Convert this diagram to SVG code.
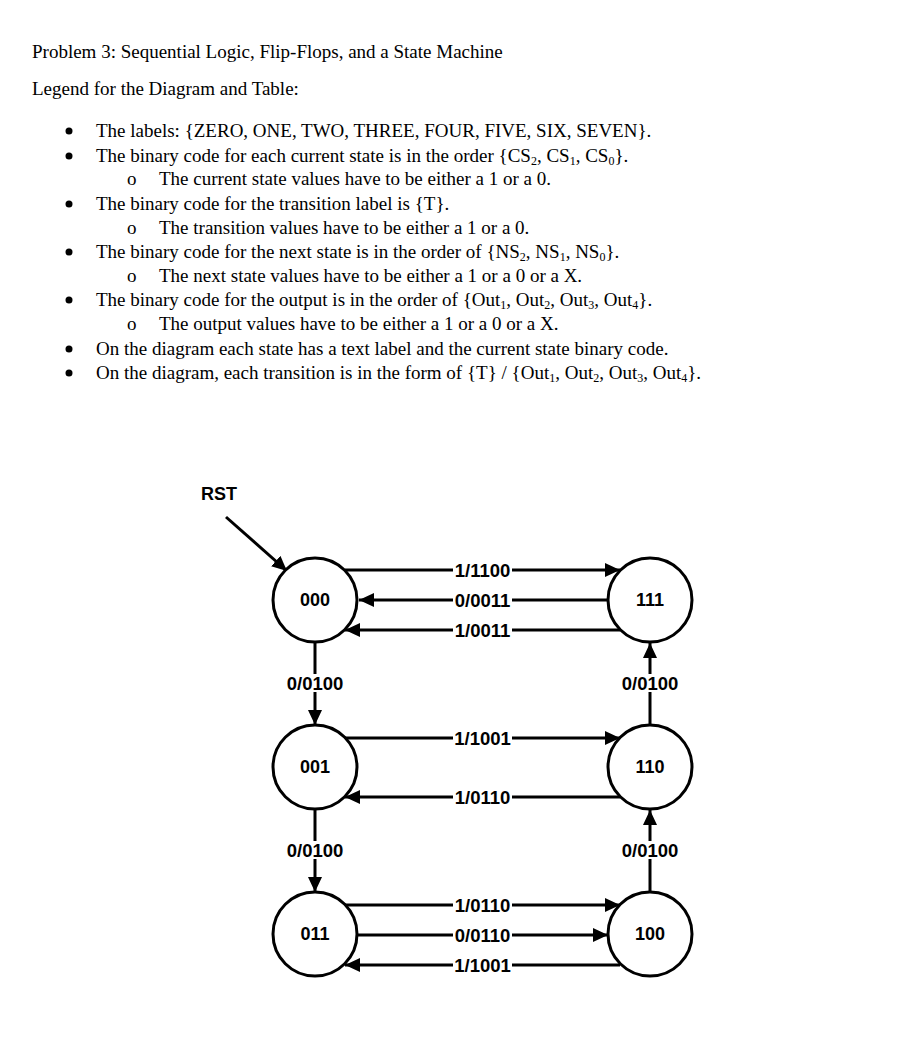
<svg xmlns="http://www.w3.org/2000/svg" width="898" height="1058" viewBox="0 0 898 1058">
<style>
.t{font-family:"Liberation Serif","Times New Roman",serif;font-size:19px;fill:#000}
.sub{font-size:12px}
.n{font-family:"Liberation Sans",Arial,sans-serif;font-weight:bold;font-size:18px;fill:#000;text-anchor:middle}
.lbl{font-family:"Liberation Sans",Arial,sans-serif;font-weight:bold;font-size:18.5px;fill:#000;text-anchor:middle}
.bg{fill:#fff}
.st{fill:#fff;stroke:#000;stroke-width:3}
.e{stroke:#000;stroke-width:3;fill:none}
.b{fill:#000}
</style>
<defs>
<marker id="ah" viewBox="0 0 15 14" refX="15" refY="7" markerWidth="15" markerHeight="14" markerUnits="userSpaceOnUse" orient="auto">
<path d="M0,0 L15,7 L0,14 Z" fill="#000"/>
</marker>
</defs>
<rect width="898" height="1058" fill="#fff"/>
<g id="text">
<text class="t" x="32" y="58">Problem 3: Sequential Logic, Flip-Flops, and a State Machine</text>
<text class="t" x="32" y="95">Legend for the Diagram and Table:</text>
<g id="bullets">
<circle class="b" cx="69" cy="131" r="3.5"/>
<circle class="b" cx="69" cy="156" r="3.5"/>
<circle class="b" cx="69" cy="204" r="3.5"/>
<circle class="b" cx="69" cy="252" r="3.5"/>
<circle class="b" cx="69" cy="300" r="3.5"/>
<circle class="b" cx="69" cy="349" r="3.5"/>
<circle class="b" cx="69" cy="373" r="3.5"/>
</g>
<g class="t">
<text x="96" y="137">The labels: {ZERO, ONE, TWO, THREE, FOUR, FIVE, SIX, SEVEN}.</text>
<text x="96" y="162">The binary code for each current state is in the order {CS<tspan class="sub" dy="3">2</tspan><tspan dy="-3">, CS</tspan><tspan class="sub" dy="3">1</tspan><tspan dy="-3">, CS</tspan><tspan class="sub" dy="3">0</tspan><tspan dy="-3">}.</tspan></text>
<text x="127" y="185">o</text><text x="159" y="185">The current state values have to be either a 1 or a 0.</text>
<text x="96" y="210">The binary code for the transition label is {T}.</text>
<text x="127" y="234">o</text><text x="159" y="234">The transition values have to be either a 1 or a 0.</text>
<text x="96" y="258">The binary code for the next state is in the order of {NS<tspan class="sub" dy="3">2</tspan><tspan dy="-3">, NS</tspan><tspan class="sub" dy="3">1</tspan><tspan dy="-3">, NS</tspan><tspan class="sub" dy="3">0</tspan><tspan dy="-3">}.</tspan></text>
<text x="127" y="282">o</text><text x="159" y="282">The next state values have to be either a 1 or a 0 or a X.</text>
<text x="96" y="306">The binary code for the output is in the order of {Out<tspan class="sub" dy="3">1</tspan><tspan dy="-3">, Out</tspan><tspan class="sub" dy="3">2</tspan><tspan dy="-3">, Out</tspan><tspan class="sub" dy="3">3</tspan><tspan dy="-3">, Out</tspan><tspan class="sub" dy="3">4</tspan><tspan dy="-3">}.</tspan></text>
<text x="127" y="330">o</text><text x="159" y="330">The output values have to be either a 1 or a 0 or a X.</text>
<text x="96" y="355">On the diagram each state has a text label and the current state binary code.</text>
<text x="96" y="379">On the diagram, each transition is in the form of {T} / {Out<tspan class="sub" dy="3">1</tspan><tspan dy="-3">, Out</tspan><tspan class="sub" dy="3">2</tspan><tspan dy="-3">, Out</tspan><tspan class="sub" dy="3">3</tspan><tspan dy="-3">, Out</tspan><tspan class="sub" dy="3">4</tspan><tspan dy="-3">}.</tspan></text>
</g>
</g>
<g id="connectors">
<line class="e" x1="226" y1="517" x2="287" y2="571" marker-end="url(#ah)"/>
<line class="e" x1="345" y1="570" x2="620" y2="570" marker-end="url(#ah)"/>
<line class="e" x1="607" y1="600" x2="359" y2="600" marker-end="url(#ah)"/>
<line class="e" x1="620" y1="630" x2="345" y2="630" marker-end="url(#ah)"/>
<line class="e" x1="315" y1="643" x2="315" y2="725" marker-end="url(#ah)"/>
<line class="e" x1="650" y1="725" x2="650" y2="643" marker-end="url(#ah)"/>
<line class="e" x1="345" y1="738" x2="620" y2="738" marker-end="url(#ah)"/>
<line class="e" x1="620" y1="797" x2="345" y2="797" marker-end="url(#ah)"/>
<line class="e" x1="315" y1="810" x2="315" y2="892" marker-end="url(#ah)"/>
<line class="e" x1="650" y1="892" x2="650" y2="810" marker-end="url(#ah)"/>
<line class="e" x1="345" y1="905" x2="620" y2="905" marker-end="url(#ah)"/>
<line class="e" x1="357" y1="935" x2="608" y2="935" marker-end="url(#ah)"/>
<line class="e" x1="620" y1="965" x2="345" y2="965" marker-end="url(#ah)"/>
<g id="labels">
<rect class="bg" x="453" y="563" width="59" height="14"/><text class="lbl" x="482.5" y="577">1/1100</text>
<rect class="bg" x="453" y="593" width="59" height="14"/><text class="lbl" x="482.5" y="607">0/0011</text>
<rect class="bg" x="453" y="623" width="59" height="14"/><text class="lbl" x="482.5" y="637">1/0011</text>
<rect class="bg" x="285" y="674" width="60" height="18"/><text class="lbl" x="315" y="690">0/0100</text>
<rect class="bg" x="620" y="674" width="60" height="18"/><text class="lbl" x="650" y="690">0/0100</text>
<rect class="bg" x="453" y="731" width="59" height="14"/><text class="lbl" x="482.5" y="745">1/1001</text>
<rect class="bg" x="453" y="790" width="59" height="14"/><text class="lbl" x="482.5" y="804">1/0110</text>
<rect class="bg" x="285" y="841" width="60" height="18"/><text class="lbl" x="315" y="857">0/0100</text>
<rect class="bg" x="620" y="841" width="60" height="18"/><text class="lbl" x="650" y="857">0/0100</text>
<rect class="bg" x="453" y="898" width="59" height="14"/><text class="lbl" x="482.5" y="912">1/0110</text>
<rect class="bg" x="453" y="928" width="59" height="14"/><text class="lbl" x="482.5" y="942">0/0110</text>
<rect class="bg" x="453" y="958" width="59" height="14"/><text class="lbl" x="482.5" y="972">1/1001</text>
</g>
<text class="n" x="219" y="500">RST</text>
</g>
<g id="s000"><circle class="st" cx="315" cy="600" r="42"/><text class="n" x="315" y="606">000</text></g>
<g id="s111"><circle class="st" cx="650" cy="600" r="42"/><text class="n" x="650" y="606">111</text></g>
<g id="s001"><circle class="st" cx="315" cy="767" r="42"/><text class="n" x="315" y="773">001</text></g>
<g id="s110"><circle class="st" cx="650" cy="767" r="42"/><text class="n" x="650" y="773">110</text></g>
<g id="s011"><circle class="st" cx="315" cy="934" r="42"/><text class="n" x="315" y="940">011</text></g>
<g id="s100"><circle class="st" cx="650" cy="934" r="42"/><text class="n" x="650" y="940">100</text></g>
</svg>
